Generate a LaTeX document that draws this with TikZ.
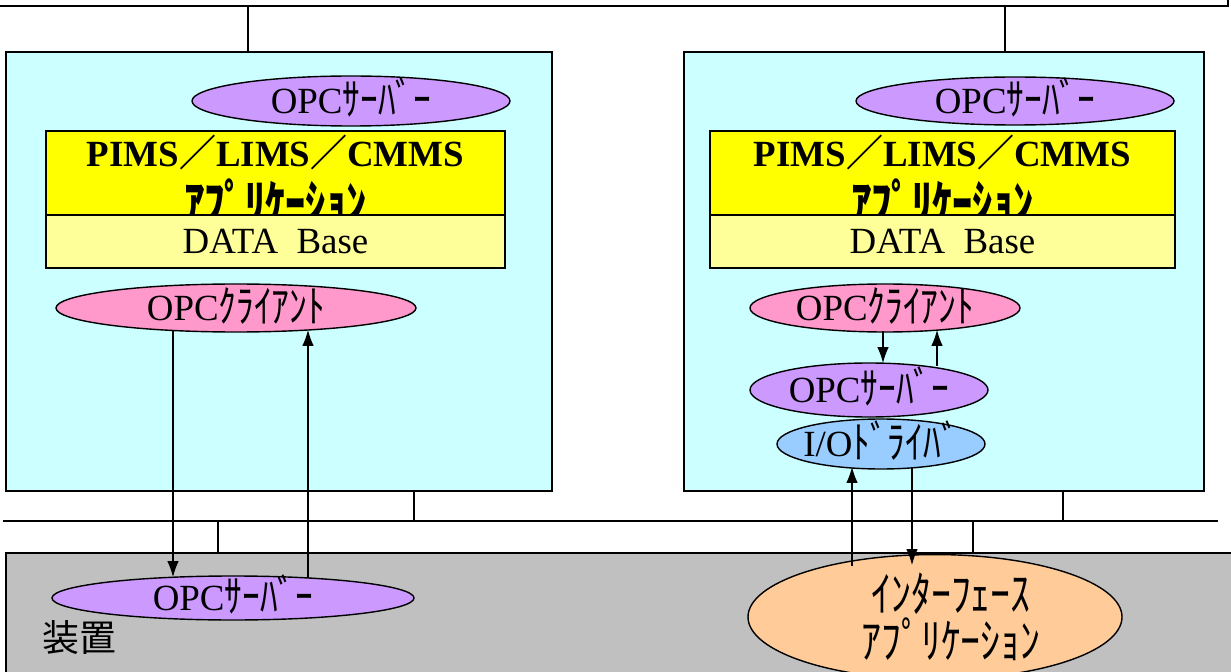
\documentclass[tikz,border=0pt]{standalone}
\usepackage{fontspec}
\setmainfont{Liberation Serif}
\newfontfamily\jp{Noto Sans CJK JP}
\usetikzlibrary{arrows.meta,shapes.geometric}

\definecolor{pccyan}{HTML}{CCFFFF}
\definecolor{appyellow}{HTML}{FFFF00}
\definecolor{dbyellow}{HTML}{FFFF99}
\definecolor{srvpurple}{HTML}{CC99FF}
\definecolor{clipink}{HTML}{FF99CC}
\definecolor{drvblue}{HTML}{99CCFF}
\definecolor{ifpeach}{HTML}{FFCC99}
\definecolor{devgray}{HTML}{C0C0C0}

\newcommand{\px}{0.02cm}
% tall narrow half-width kana
\newcommand{\kana}[1]{\smash{\raisebox{-0.07em}{\scalebox{0.96}[1.2]{\jp #1}}}}
\newcommand{\kanatall}[1]{\scalebox{1.08}[1.3]{\jp #1}}
\newcommand{\kanab}[1]{\scalebox{1.1}[1.35]{\jp\bfseries #1}}
\newcommand{\inoval}[1]{\makebox[0pt]{#1}}

\tikzset{
  bus/.style={line width=1.1pt},
  pcbox/.style={draw, line width=1.1pt, fill=pccyan, anchor=north west},
  appbox/.style={draw, line width=1.1pt, fill=appyellow, inner sep=0pt},
  apptext/.style={align=center, inner sep=0pt},
  dbbox/.style={draw, line width=1.1pt, fill=dbyellow, inner sep=0pt},
  oval/.style={ellipse, draw, line width=0.8pt, inner sep=0pt, align=center},
  arr/.style={line width=0.6pt, -{Latex[length=9pt,width=6.5pt]}},
}

\begin{document}
\begin{tikzpicture}[x=0.02cm,y=-0.02cm,font=\fontsize{21}{25}\selectfont]
\useasboundingbox (0,0) rectangle (1231,672);

% networks
\draw[bus] (0,6) -- (1228,6) -- (1228,0);
\draw[bus] (3,521) -- (1218,521);

% PCs and device
\node[pcbox, minimum width=546*\px, minimum height=439*\px] (pcL) at (5,51) {};
\node[pcbox, minimum width=520*\px, minimum height=439*\px] (pcR) at (683,51) {};
\node[pcbox, fill=devgray, minimum width=1226*\px, minimum height=121*\px] (dev) at (5,552) {};
\node[anchor=west] (devname) at (36,638) {\jp 装置};

% drops from the networks
\coordinate (tapL) at (248,6);
\coordinate (tapR) at (1005,6);
\coordinate (dropL) at (414,521);
\coordinate (dropR) at (1063,521);
\coordinate (dropD) at (218,521);
\coordinate (dropE) at (973,521);
\draw[bus] (tapL) -- (tapL |- pcL.north);
\draw[bus] (tapR) -- (tapR |- pcR.north);
\draw[bus] (dropL) -- (dropL |- pcL.south);
\draw[bus] (dropR) -- (dropR |- pcR.south);
\draw[bus] (dropD) -- (dropD |- dev.north);
\draw[bus] (dropE) -- (dropE |- dev.north);

% left PC
\node[oval, fill=srvpurple, minimum width=318*\px, minimum height=50*\px] (srvL) at (351,101) {\inoval{OPC\kana{ｻｰﾊﾞｰ}}};
\node[appbox, minimum width=459*\px, minimum height=84*\px] (appL) at (275.5,173) {};
\node[apptext] (appLtext) at (275.5,180) {\bfseries PIMS{\jp ／}LIMS{\jp ／}CMMS\\[4pt] \kanab{ｱﾌﾟﾘｹｰｼｮﾝ}};
\node[dbbox, minimum width=459*\px, minimum height=53*\px] (dbL) at (275.5,241.5) {DATA\enspace Base};
\node[oval, fill=clipink, minimum width=360*\px, minimum height=48*\px] (cliL) at (236,308) {\inoval{OPC\kana{ｸﾗｲｱﾝﾄ}}};

% right PC
\node[oval, fill=srvpurple, minimum width=318*\px, minimum height=48*\px] (srvR) at (1015,101) {\inoval{OPC\kana{ｻｰﾊﾞｰ}}};
\node[appbox, minimum width=465*\px, minimum height=84*\px] (appR) at (942.5,173) {};
\node[apptext] (appRtext) at (942.5,180) {\bfseries PIMS{\jp ／}LIMS{\jp ／}CMMS\\[4pt] \kanab{ｱﾌﾟﾘｹｰｼｮﾝ}};
\node[dbbox, minimum width=465*\px, minimum height=53*\px] (dbR) at (942.5,241.5) {DATA\enspace Base};
\node[oval, fill=clipink, minimum width=270*\px, minimum height=48*\px] (cliR) at (885,308) {\inoval{OPC\kana{ｸﾗｲｱﾝﾄ}}};
\node[oval, fill=srvpurple, minimum width=238*\px, minimum height=54*\px] (srvR2) at (869,390) {\inoval{OPC\kana{ｻｰﾊﾞｰ}}};
\node[oval, fill=drvblue, minimum width=208*\px, minimum height=50*\px] (drvR) at (881,444) {\inoval{I/O\kana{ﾄﾞﾗｲﾊﾞ}}};

% device
\node[oval, fill=srvpurple, minimum width=362*\px, minimum height=44*\px] (srvD) at (233,598) {\inoval{OPC\kana{ｻｰﾊﾞｰ}}};
\node[oval, fill=ifpeach, minimum width=374*\px, minimum height=106*\px] (ifApp) at (935,617)
  {\inoval{\hspace{0.64cm}\kanatall{ｲﾝﾀｰﾌｪｰｽ}}\\[2pt]\inoval{\hspace{0.64cm}\kanatall{ｱﾌﾟﾘｹｰｼｮﾝ}}};

% data flow
\coordinate (cliLdn) at (173,330);
\coordinate (srvDin) at (173,577);
\coordinate (srvDup) at (308,578);
\coordinate (cliLin) at (308,330);
\draw[arr] (cliLdn) -- (srvDin);
\draw[arr] (srvDup) -- (cliLin);

\coordinate (cliRdn) at (883,331);
\coordinate (srvR2in) at (883,363);
\coordinate (srvR2up) at (937,366);
\coordinate (cliRin) at (937,330);
\draw[arr] (cliRdn) -- (srvR2in);
\draw[arr] (srvR2up) -- (cliRin);

\coordinate (ifUp) at (852,566);
\coordinate (drvIn) at (852,467);
\coordinate (drvDn) at (912,467);
\coordinate (ifIn) at (912,565);
\draw[arr] (ifUp) -- (drvIn);
\draw[arr] (drvDn) -- (ifIn);

\end{tikzpicture}
\end{document}
